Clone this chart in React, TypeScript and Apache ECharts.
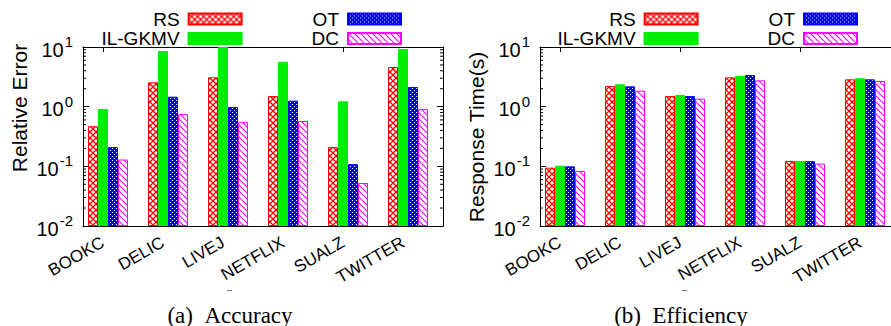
import React, { useEffect, useRef } from 'react';
import * as echarts from 'echarts';

const categories = ['BOOKC', 'DELIC', 'LIVEJ', 'NETFLIX', 'SUALZ', 'TWITTER'];
const seriesNames = ['RS', 'IL-GKMV', 'OT', 'DC'];

// (a) Accuracy — Relative Error
const errRS = [0.47, 2.56, 3.1, 1.51, 0.21, 4.62];
const errILGKMV = [0.91, 8.57, 10, 5.67, 1.23, 9.25];
const errOT = [0.21, 1.47, 0.99, 1.26, 0.109, 2.14];
const errDC = [0.13, 0.75, 0.55, 0.575, 0.0525, 0.91];

// (b) Efficiency — Response Time(s)
const timeRS = [0.095, 2.22, 1.51, 3.1, 0.123, 2.87];
const timeILGKMV = [0.1025, 2.37, 1.57, 3.26, 0.123, 2.99];
const timeOT = [0.1, 2.19, 1.51, 3.39, 0.122, 2.87];
const timeDC = [0.0835, 1.85, 1.36, 2.76, 0.111, 2.69];

const yMin = 0.01;
const yMax = 10;
const decades = [-2, -1, 0];
const minorMultipliers = [2, 3, 4, 5, 6, 7, 8, 9];

const SANS = 'Liberation Sans, Arial, Helvetica, sans-serif';
const SERIF = 'Liberation Serif, Times New Roman, serif';

function makePattern(kind: string) {
  const size = kind === 'dots' ? 4 : 6;
  const c = document.createElement('canvas');
  c.width = size;
  c.height = size;
  const ctx = c.getContext('2d') as CanvasRenderingContext2D;
  if (kind === 'cross') {
    ctx.fillStyle = '#ffffff';
    ctx.fillRect(0, 0, size, size);
    ctx.strokeStyle = '#ff0000';
    ctx.lineWidth = 1.3;
    ctx.beginPath();
    ctx.moveTo(-1, -1); ctx.lineTo(size + 1, size + 1);
    ctx.moveTo(size + 1, -1); ctx.lineTo(-1, size + 1);
    ctx.stroke();
  } else if (kind === 'diag') {
    ctx.fillStyle = '#ffffff';
    ctx.fillRect(0, 0, size, size);
    ctx.strokeStyle = '#ff00ff';
    ctx.lineWidth = 1.1;
    ctx.beginPath();
    ctx.moveTo(-1, -1); ctx.lineTo(size + 1, size + 1);
    ctx.moveTo(size - 1, -1); ctx.lineTo(size + 1, 1);
    ctx.moveTo(-1, size - 1); ctx.lineTo(1, size + 1);
    ctx.stroke();
  } else {
    ctx.fillStyle = '#0000ff';
    ctx.fillRect(0, 0, size, size);
    ctx.fillStyle = '#ffffff';
    ctx.fillRect(0, 0, 1, 1);
    ctx.fillRect(2, 2, 1, 1);
  }
  return { image: c.toDataURL(), repeat: 'repeat', imageWidth: size, imageHeight: size };
}

export default function App() {
  const ref = useRef<HTMLDivElement>(null);

  useEffect(() => {
    if (!ref.current) return;
    const chart = echarts.init(ref.current, undefined, { renderer: 'svg' });

    const styles = [
      { color: makePattern('cross'), borderColor: '#ff0000', borderWidth: 1 },
      { color: '#00ee00', borderColor: '#00ee00', borderWidth: 1 },
      { color: makePattern('dots'), borderColor: '#0000ff', borderWidth: 1 },
      { color: makePattern('diag'), borderColor: '#ff00ff', borderWidth: 1 },
    ];

    const minorTickData: number[][] = [];
    decades.forEach((e) => minorMultipliers.forEach((m) => minorTickData.push([0, m * Math.pow(10, e)])));

    const barSeries = (values: number[][], xIdx: number, yIdx: number) => {
      const list: any[] = seriesNames.map((name, i) => ({
        type: 'bar',
        name,
        xAxisIndex: xIdx,
        yAxisIndex: yIdx,
        data: values[i],
        barWidth: 10,
        barGap: '0%',
        itemStyle: styles[i],
        silent: true,
      }));
      list.push({
        type: 'bar',
        name: '_pad',
        xAxisIndex: xIdx,
        yAxisIndex: yIdx,
        data: categories.map(() => '-'),
        barWidth: 10,
        barGap: '0%',
        silent: true,
      });
      list.push({
        type: 'custom',
        name: '_minor',
        xAxisIndex: xIdx,
        yAxisIndex: yIdx,
        data: minorTickData,
        silent: true,
        clip: false,
        z: 5,
        renderItem: (params: any, api: any) => {
          const cs = params.coordSys;
          const y = api.coord([0, api.value(1)])[1];
          const st = { stroke: '#000', lineWidth: 1 };
          return {
            type: 'group',
            children: [
              { type: 'line', shape: { x1: cs.x, y1: y, x2: cs.x + 3, y2: y }, style: st },
              { type: 'line', shape: { x1: cs.x + cs.width - 3, y1: y, x2: cs.x + cs.width, y2: y }, style: st },
            ],
          };
        },
      });
      return list;
    };

    const frameX = (gridIndex: number, position: string) => ({
      type: 'category',
      gridIndex,
      position,
      data: categories,
      axisLine: { show: true, lineStyle: { color: '#000', width: 1 } },
      axisTick: { show: false },
      axisLabel: { show: false },
      splitLine: { show: false },
    });
    const tickX = (gridIndex: number, position: string, labels: boolean) => ({
      type: 'category',
      gridIndex,
      position,
      data: categories,
      axisLine: { show: false },
      axisTick: { show: true, inside: true, length: 5, alignWithLabel: true, lineStyle: { color: '#000' } },
      axisLabel: labels
        ? { show: true, interval: 0, rotate: 30, margin: 15, fontSize: 17, fontFamily: SANS, color: '#000' }
        : { show: false },
      splitLine: { show: false },
    });
    const logY = (gridIndex: number, position: string, labels: boolean) => ({
      type: 'log',
      logBase: 10,
      gridIndex,
      position,
      min: yMin,
      max: yMax,
      startValue: yMin,
      axisLine: { show: true, lineStyle: { color: '#000', width: 1 } },
      axisTick: { show: true, inside: true, length: 6, lineStyle: { color: '#000' } },
      splitLine: { show: false },
      axisLabel: labels
        ? {
            show: true,
            margin: 10,
            color: '#000',
            formatter: (v: number) => '{b|10}{s|' + Math.round(Math.log10(v)) + '}',
            rich: {
              b: { fontSize: 20, fontFamily: SANS, color: '#000', padding: [5, 0, 0, 0] },
              s: { fontSize: 15, fontFamily: SANS, color: '#000', padding: [0, 0, 11, 1] },
            },
          }
        : { show: false },
    });
    const hiddenY = (gridIndex: number) => ({ type: 'value', gridIndex, show: false, min: 0, max: 1 });

    const legendCommon = {
      orient: 'horizontal',
      icon: 'rect',
      itemWidth: 53,
      itemHeight: 11,
      align: 'right',
      padding: 0,
      selectedMode: false,
      textStyle: { fontSize: 19, fontFamily: SANS, color: '#000', lineHeight: 18, padding: [0, 4, 0, 0] },
    };

    const option: any = {
      animation: false,
      backgroundColor: '#ffffff',
      textStyle: { fontFamily: SANS },
      grid: [
        { left: 83, top: 47, width: 360, height: 179 },
        { left: 73, top: 47, width: 360, height: 179 },
        { left: 540, top: 47, width: 360, height: 179 },
        { left: 530, top: 47, width: 360, height: 179 },
      ],
      xAxis: [
        frameX(0, 'bottom'),
        frameX(0, 'top'),
        tickX(1, 'bottom', true),
        tickX(1, 'top', false),
        frameX(2, 'bottom'),
        frameX(2, 'top'),
        tickX(3, 'bottom', true),
        tickX(3, 'top', false),
      ],
      yAxis: [
        logY(0, 'left', true),
        logY(0, 'right', false),
        hiddenY(1),
        logY(2, 'left', true),
        logY(2, 'right', false),
        hiddenY(3),
      ],
      legend: [
        { ...legendCommon, data: ['RS', 'OT'], itemGap: 70, right: 518, top: 9.5 },
        { ...legendCommon, data: ['IL-GKMV', 'DC'], itemGap: 69, right: 518, top: 29 },
        { ...legendCommon, data: ['RS', 'OT'], itemGap: 70, right: 62, top: 9.5 },
        { ...legendCommon, data: ['IL-GKMV', 'DC'], itemGap: 69, right: 62, top: 29 },
      ],
      series: [
        ...barSeries([errRS, errILGKMV, errOT, errDC], 0, 0),
        ...barSeries([timeRS, timeILGKMV, timeOT, timeDC], 4, 3),
      ],
      graphic: [
        {
          type: 'text', x: 19, y: 108, rotation: Math.PI / 2,
          style: { text: 'Relative Error', fontSize: 21, fontFamily: SANS, fill: '#000', align: 'center', verticalAlign: 'middle' },
        },
        {
          type: 'text', x: 476, y: 137, rotation: Math.PI / 2,
          style: { text: 'Response Time(s)', fontSize: 21, fontFamily: SANS, fill: '#000', align: 'center', verticalAlign: 'middle' },
        },
        {
          type: 'text', x: 230, y: 315,
          style: { text: '(a)\u2002Accuracy', fontSize: 23, fontFamily: SERIF, fill: '#000', align: 'center', verticalAlign: 'middle' },
        },
        {
          type: 'text', x: 681, y: 315,
          style: { text: '(b)\u2002Efficiency', fontSize: 23, fontFamily: SERIF, fill: '#000', align: 'center', verticalAlign: 'middle' },
        },
        { type: 'line', shape: { x1: 227, y1: 290.5, x2: 232, y2: 290.5 }, style: { stroke: '#777', lineWidth: 1 } },
        { type: 'line', shape: { x1: 682, y1: 290.5, x2: 687, y2: 290.5 }, style: { stroke: '#777', lineWidth: 1 } },
      ],
    };

    chart.setOption(option);
    return () => chart.dispose();
  }, []);

  return (
    <div style={{ position: 'fixed', left: 0, top: 0, width: 891, height: 326, overflow: 'hidden', background: '#fff' }}>
      <div ref={ref} style={{ position: 'absolute', left: 0, top: 0, width: 920, height: 326 }} />
    </div>
  );
}
